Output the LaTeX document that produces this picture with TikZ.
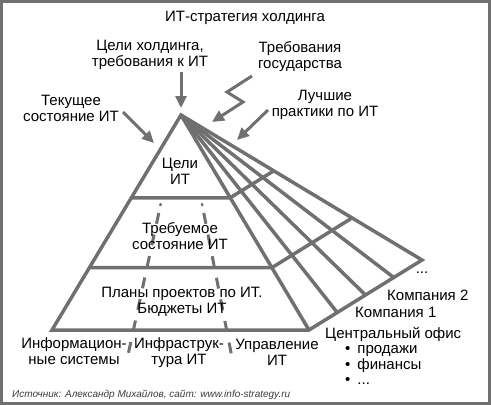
\documentclass[tikz,border=0pt]{standalone}
\usepackage{fontspec}
\setmainfont{Liberation Sans}
\usetikzlibrary{arrows.meta,calc}
\definecolor{lg}{RGB}{112,112,112}
\definecolor{srcgray}{RGB}{60,60,60}
\begin{document}
\begin{tikzpicture}[x=1pt,y=-1pt,
  lbl/.style={font=\fontsize{15}{16}\selectfont, align=center, inner sep=0pt, text=black},
  pyr/.style={draw=lg, line width=3.5pt, line join=miter},
  dsh/.style={draw=lg, line width=3pt, dash pattern=on 11pt off 11pt},
  dotmark/.style={draw=lg, line width=2.5pt, line cap=round},
  arr/.style={draw=lg, line width=3pt, line join=miter, -{Triangle[length=12pt,width=11pt]}},
  src/.style={font=\fontsize{10}{12}\selectfont\itshape, text=srcgray, inner sep=0pt, anchor=west}]
\useasboundingbox (0,0) rectangle (491,405);
\draw[lg, line width=3pt] (1.5,1.5) rectangle (489.5,403.5);

% pyramid geometry
\coordinate (A) at (181,115);
\coordinate (BL) at (52,330);
\coordinate (F0) at (309,330);
\coordinate (F1) at (337.25,312.5);
\coordinate (F2) at (365.5,295);
\coordinate (F3) at (393.75,277.5);
\coordinate (F4) at (422,260);

% dashed column separators
\coordinate (d1a) at (158.8,213);
\coordinate (d1b) at (128,355);
\coordinate (d2a) at (203.8,213);
\coordinate (d2b) at (231.5,355);
\coordinate (d1t) at (160.6,204);
\coordinate (d2t) at (202,204);
\draw[dsh] (d1a) -- (d1b);
\draw[dsh] (d2a) -- (d2b);
\draw[dotmark] (d1t) -- ++(-0.3,1.2);
\draw[dotmark] (d2t) -- ++(0.3,1.2);

% pyramid and fan
\draw[pyr] (A) -- (BL) -- (F0) -- (F4) -- cycle;
\foreach \i in {0,1,2,3} \draw[pyr] (A) -- (F\i);
\draw[pyr] ($(A)!0.385!(BL)$) -- ($(A)!0.385!(F0)$) -- ($(A)!0.385!(F4)$);
\draw[pyr] ($(A)!0.71!(BL)$) -- ($(A)!0.71!(F0)$) -- ($(A)!0.71!(F4)$);

% labels
\node[lbl, anchor=north] (title) at (245,11) {ИТ-стратегия холдинга};
\node[lbl, anchor=north] (goals) at (150,40) {Цели холдинга,\\требования к ИТ};
\node[lbl, anchor=north] (gov) at (300,41) {Требования\\государства};
\node[lbl, anchor=north] (cur) at (71,95) {Текущее\\состояние ИТ};
\node[lbl, anchor=north] (best) at (325,90) {Лучшие\\практики по ИТ};
\node[lbl, anchor=north] (l1) at (180,158) {Цели\\ИТ};
\node[lbl, anchor=north] (l2) at (180,222) {Требуемое\\состояние ИТ};
\node[lbl, anchor=north] (l3) at (182,287) {Планы проектов по ИТ.\\Бюджеты ИТ};
\node[lbl, anchor=north] (c1) at (74,337) {Информацион-\\ные системы};
\node[lbl, anchor=north] (c2) at (179,337) {Инфраструк-\\тура ИТ};
\node[lbl, anchor=north] (c3) at (277,339) {Управление\\ИТ};
\node[lbl, anchor=north west] (co) at (325,327) {Центральный офис};
\node[lbl, anchor=north west] (k1) at (355,307) {Компания 1};
\node[lbl, anchor=north west] (k2) at (387,290) {Компания 2};
\node[lbl, anchor=base] (kd) at (422,273) {...};
\node[lbl, anchor=base west] (b1) at (345,353) {•\hspace{7pt}продажи};
\node[lbl, anchor=base west] (b2) at (345,369) {•\hspace{7pt}финансы};
\node[lbl, anchor=base west] (b3) at (345,384) {•\hspace{7pt}...};
\node[src] (source) at (12,394.5) {Источник: Александр Михайлов, сайт: www.info-strategy.ru};

% arrows
\coordinate (ga) at (181,72);
\coordinate (gb) at (181,108);
\draw[arr] (ga) -- (gb);
\coordinate (sa) at (252,76);
\coordinate (sb1) at (227,92);
\coordinate (sb2) at (243,102);
\coordinate (sc) at (212,122);
\draw[arr] (sa) -- (sb1) -- (sb2) -- (sc);
\coordinate (ca) at (123,112);
\coordinate (cb) at (154,143);
\draw[arr] (ca) -- (cb);
\coordinate (ba) at (268,110);
\coordinate (bb) at (237,140);
\draw[arr] (ba) -- (bb);
\end{tikzpicture}
\end{document}
